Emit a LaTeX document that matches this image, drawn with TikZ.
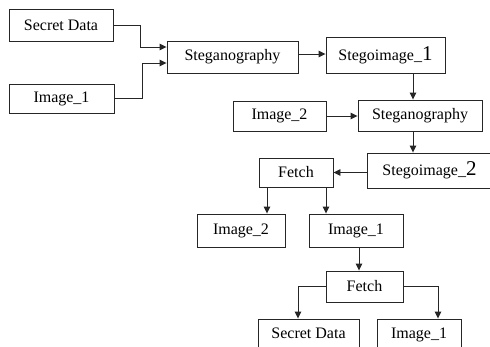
\documentclass[tikz,border=0pt]{standalone}
\usepackage{fontspec}
\setmainfont{Liberation Serif}
\usetikzlibrary{arrows.meta}
\newcommand{\bigd}[1]{{\fontsize{21}{21}\selectfont #1}}
\begin{document}
\begin{tikzpicture}[x=1pt,y=-1pt,
  box/.style={draw=black!85,line width=0.9pt,rectangle,inner sep=0pt,font=\fontsize{16}{19}\selectfont},
  arr/.style={draw=black!85,line width=0.9pt,-{Triangle[length=7pt,width=6.5pt]}}]
\useasboundingbox (0,0) rectangle (490,346);
\clip (0,0) rectangle (490,346);
\fill[white] (0,0) rectangle (490,346);
\node[box,minimum width=104pt,minimum height=32pt] (sd1) at (61,25) {Secret Data};
\node[box,minimum width=105pt,minimum height=29pt] (im1a) at (61.5,98.5) {Image\_1};
\node[box,minimum width=131pt,minimum height=32pt] (st1) at (232.5,57) {Steganography};
\node[box,minimum width=119pt,minimum height=36pt] (si1) at (385.5,55) {Stegoimage\_\bigd{1}};
\node[box,minimum width=93pt,minimum height=30pt] (im2a) at (279.5,116) {Image\_2};
\node[box,minimum width=124pt,minimum height=31pt] (st2) at (420,115.5) {Steganography};
\node[box,minimum width=125pt,minimum height=35pt] (si2) at (429.5,170.5) {Stegoimage\_\bigd{2}};
\node[box,minimum width=74pt,minimum height=29pt] (f1) at (296,172.5) {Fetch};
\node[box,minimum width=88pt,minimum height=33pt] (im2b) at (241,230.5) {Image\_2};
\node[box,minimum width=94pt,minimum height=33pt] (im1b) at (356,230.5) {Image\_1};
\node[box,minimum width=77pt,minimum height=31pt] (f2) at (364.5,286.5) {Fetch};
\node[box,minimum width=101pt,minimum height=33pt,text depth=0pt] (sdb) at (308.5,335.5) {\raisebox{5pt}{Secret Data}};
\node[box,minimum width=84pt,minimum height=33pt] (im1c) at (419,335.5) {\raisebox{5pt}{Image\_1}};

\draw[arr] (sd1.east) -- (140,25) -- (140,47) -- (st1.west |- 0,47);
\draw[arr] (im1a.east) -- (142,98.5) -- (142,63) -- (st1.west |- 0,63);
\draw[arr] (st1.east |- 0,54) -- (si1.west |- 0,54);
\draw[arr] (si1.south -| 413,0) -- (st2.north -| 413,0);
\draw[arr] (im2a.east) -- (st2.west |- im2a.east);
\draw[arr] (st2.south -| 413,0) -- (si2.north -| 413,0);
\draw[arr] (si2.west |- f1.east) -- (f1.east);
\draw[arr] (f1.south -| 267,0) -- (im2b.north -| 267,0);
\draw[arr] (f1.south -| 326,0) -- (im1b.north -| 326,0);
\draw[arr] (im1b.south -| 359,0) -- (f2.north -| 359,0);
\draw[arr] (f2.west) -- (298,286.5) -- (sdb.north -| 298,0);
\draw[arr] (f2.east) -- (438,286.5) -- (im1c.north -| 438,0);
\end{tikzpicture}
\end{document}
